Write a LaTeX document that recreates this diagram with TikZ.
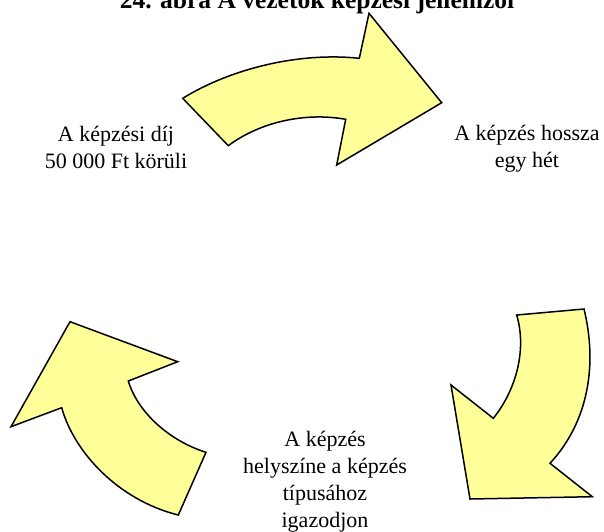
\documentclass[tikz,border=0pt]{standalone}
\usepackage{fontspec}
\setmainfont{Liberation Serif}
\definecolor{arrowfill}{HTML}{FFFF99}
\begin{document}
\begin{tikzpicture}[x=1pt,y=-1pt,
  cyclearrow/.style={fill=arrowfill,draw=black,line width=1.5pt,line join=miter},
  label/.style={align=center,font=\fontsize{22}{27}\selectfont,inner sep=0pt},
  heading/.style={font=\fontsize{25.5}{30}\selectfont\bfseries,inner sep=0pt,anchor=base}]
\clip (0,0) rectangle (604,531);
\fill[white] (0,0) rectangle (604,531);

% heading, partly above the top edge
\node[heading] (title) at (317,8.5) {24. ábra A vezetők képzési jellemzői};

% upper arrow, pointing right
\draw[cyclearrow] (182.7,98.3)
  .. controls (232,68) and (300,52) .. (359.3,58.3)
  -- (369,13.3) -- (441.7,102.7) -- (336.7,165) -- (345.7,119.3)
  .. controls (305,112) and (260,122) .. (228.3,145.7) -- cycle;

% right arrow, pointing down
\draw[cyclearrow] (516.7,315) -- (584,309)
  .. controls (597,362) and (590,420) .. (550,463.3)
  -- (592.3,496.7) -- (470,499) -- (451,385) -- (493.3,418.3)
  .. controls (516,390) and (527,350) .. (516.7,315) -- cycle;

% left arrow, pointing up
\draw[cyclearrow] (206,452.3)
  .. controls (170,441) and (138,413) .. (128.3,381)
  -- (177.7,361.7) -- (70,321.7) -- (11,426.7) -- (61.7,407.7)
  .. controls (74,452) and (118,500) .. (178.3,515) -- cycle;

% texts between the arrows
\node[label] (fee) at (116,147) {A képzési díj\\50 000 Ft körüli};
\node[label] (length) at (527,149) {A képzés hossza\\egy hét};
\node[label] (place) at (325,482) {A képzés\\helyszíne a képzés\\típusához\\igazodjon};
\end{tikzpicture}
\end{document}
